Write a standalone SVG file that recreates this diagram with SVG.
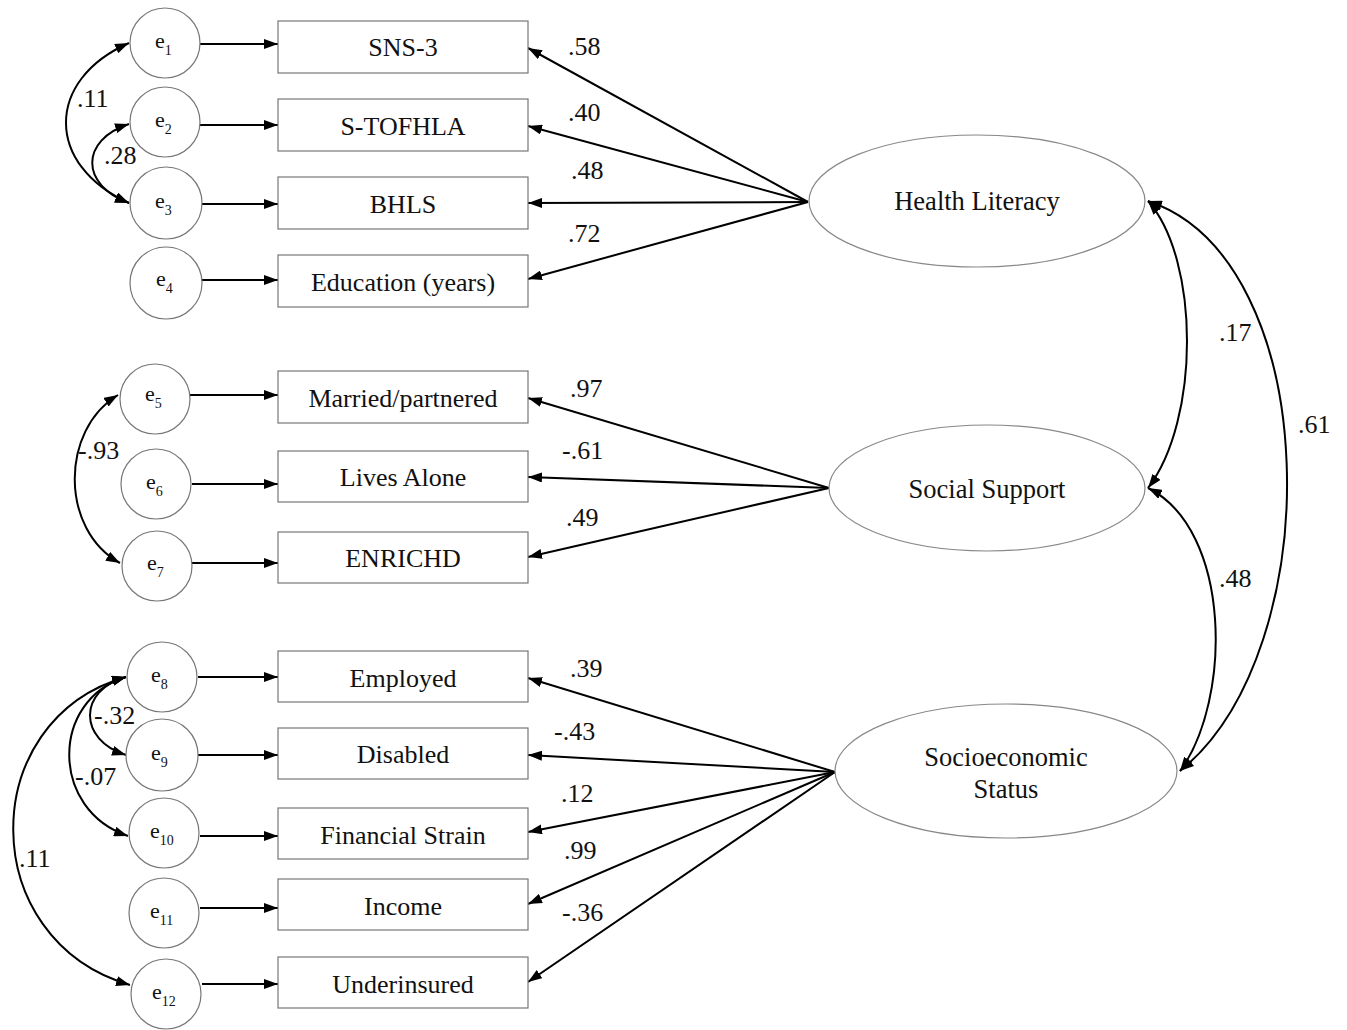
<svg xmlns="http://www.w3.org/2000/svg" width="1347" height="1030" viewBox="0 0 1347 1030">
<style>
text{font-family:"Liberation Serif","Times New Roman",serif;fill:#111;}
.box{fill:#fff;stroke:#777;stroke-width:1.2;}
.err{fill:#fff;stroke:#777;stroke-width:1.2;}
.lat{fill:#fff;stroke:#888;stroke-width:1.2;}
.lbl{font-size:26px;text-anchor:middle;}
.lat-t{font-size:26.5px;text-anchor:middle;}
.coef{font-size:26px;}
.e{font-size:22px;}
.sub{font-size:14px;}
.c{fill:none;stroke:#000;stroke-width:2;}
</style>
<defs>
<marker id="ah" viewBox="0 0 14 10" refX="14" refY="5" markerWidth="14" markerHeight="10" markerUnits="userSpaceOnUse" orient="auto-start-reverse">
<path d="M0,0 L14,5 L0,10 Z" fill="#000"/>
</marker>
</defs>
<rect width="1347" height="1030" fill="#fff"/>

<g id="connectors">
<line class="c" x1="200" y1="44" x2="278" y2="44" marker-end="url(#ah)"/>
<line class="c" x1="200" y1="125" x2="278" y2="125" marker-end="url(#ah)"/>
<line class="c" x1="201" y1="204" x2="278" y2="204" marker-end="url(#ah)"/>
<line class="c" x1="201" y1="280" x2="278" y2="280" marker-end="url(#ah)"/>
<line class="c" x1="190" y1="395" x2="278" y2="395" marker-end="url(#ah)"/>
<line class="c" x1="192" y1="484" x2="278" y2="484" marker-end="url(#ah)"/>
<line class="c" x1="192" y1="563" x2="278" y2="563" marker-end="url(#ah)"/>
<line class="c" x1="198" y1="677" x2="278" y2="677" marker-end="url(#ah)"/>
<line class="c" x1="198" y1="755" x2="278" y2="755" marker-end="url(#ah)"/>
<line class="c" x1="200" y1="836" x2="278" y2="836" marker-end="url(#ah)"/>
<line class="c" x1="200" y1="908" x2="278" y2="908" marker-end="url(#ah)"/>
<line class="c" x1="202" y1="984" x2="278" y2="984" marker-end="url(#ah)"/>
<line class="c" x1="808" y1="202" x2="528" y2="48" marker-end="url(#ah)"/>
<line class="c" x1="808" y1="202" x2="528" y2="126" marker-end="url(#ah)"/>
<line class="c" x1="808" y1="202" x2="528" y2="203" marker-end="url(#ah)"/>
<line class="c" x1="808" y1="202" x2="528" y2="279" marker-end="url(#ah)"/>
<line class="c" x1="829" y1="488" x2="528" y2="398" marker-end="url(#ah)"/>
<line class="c" x1="829" y1="488" x2="528" y2="477" marker-end="url(#ah)"/>
<line class="c" x1="829" y1="488" x2="528" y2="557" marker-end="url(#ah)"/>
<line class="c" x1="835" y1="772" x2="528" y2="678" marker-end="url(#ah)"/>
<line class="c" x1="835" y1="772" x2="528" y2="755" marker-end="url(#ah)"/>
<line class="c" x1="835" y1="772" x2="528" y2="832" marker-end="url(#ah)"/>
<line class="c" x1="835" y1="772" x2="528" y2="904" marker-end="url(#ah)"/>
<line class="c" x1="835" y1="772" x2="528" y2="982" marker-end="url(#ah)"/>
<path class="c" d="M129,43 C45,80 45,165 129,203" marker-start="url(#ah)" marker-end="url(#ah)"/>
<path class="c" d="M129,124 C80,140 80,185 129,203" marker-start="url(#ah)" marker-end="url(#ah)"/>
<path class="c" d="M118,395 C60,430 60,530 120,563" marker-start="url(#ah)" marker-end="url(#ah)"/>
<path class="c" d="M126,677 C78,690 78,740 126,755" marker-start="url(#ah)" marker-end="url(#ah)"/>
<path class="c" d="M126,677 C50,700 50,810 128,836" marker-start="url(#ah)" marker-end="url(#ah)"/>
<path class="c" d="M126,677 C-25,720 -25,940 130,985" marker-start="url(#ah)" marker-end="url(#ah)"/>
<path class="c" d="M1148,201 C1200,260 1200,420 1148,488" marker-start="url(#ah)" marker-end="url(#ah)"/>
<path class="c" d="M1148,201 C1325,260 1330,650 1180,771" marker-start="url(#ah)" marker-end="url(#ah)"/>
<path class="c" d="M1148,488 C1232,530 1232,700 1180,771" marker-start="url(#ah)" marker-end="url(#ah)"/>
<text class="coef" x="568" y="55">.58</text>
<text class="coef" x="568" y="121">.40</text>
<text class="coef" x="571" y="179">.48</text>
<text class="coef" x="568" y="242">.72</text>
<text class="coef" x="570" y="397">.97</text>
<text class="coef" x="562" y="459">-.61</text>
<text class="coef" x="566" y="526">.49</text>
<text class="coef" x="570" y="677">.39</text>
<text class="coef" x="554" y="740">-.43</text>
<text class="coef" x="561" y="802">.12</text>
<text class="coef" x="564" y="859">.99</text>
<text class="coef" x="562" y="921">-.36</text>
<text class="coef" x="77" y="107">.11</text>
<text class="coef" x="104" y="164">.28</text>
<text class="coef" x="78" y="459">-.93</text>
<text class="coef" x="94" y="724">-.32</text>
<text class="coef" x="75" y="785">-.07</text>
<text class="coef" x="19" y="867">.11</text>
<text class="coef" x="1219" y="341">.17</text>
<text class="coef" x="1298" y="433">.61</text>
<text class="coef" x="1219" y="587">.48</text>
</g>

<g id="e1"><circle class="err" cx="165" cy="43" r="35"/><text x="155" y="48"><tspan class="e">e</tspan><tspan class="sub" dy="7">1</tspan></text></g>
<g id="e2"><circle class="err" cx="165" cy="122" r="35"/><text x="155" y="127"><tspan class="e">e</tspan><tspan class="sub" dy="7">2</tspan></text></g>
<g id="e3"><circle class="err" cx="166" cy="203" r="36"/><text x="155" y="208"><tspan class="e">e</tspan><tspan class="sub" dy="7">3</tspan></text></g>
<g id="e4"><circle class="err" cx="166" cy="283" r="36"/><text x="156" y="286"><tspan class="e">e</tspan><tspan class="sub" dy="7">4</tspan></text></g>
<g id="e5"><circle class="err" cx="155" cy="399" r="35"/><text x="145" y="401"><tspan class="e">e</tspan><tspan class="sub" dy="7">5</tspan></text></g>
<g id="e6"><circle class="err" cx="156" cy="484" r="35"/><text x="146" y="489"><tspan class="e">e</tspan><tspan class="sub" dy="7">6</tspan></text></g>
<g id="e7"><circle class="err" cx="157" cy="566" r="35"/><text x="147" y="570"><tspan class="e">e</tspan><tspan class="sub" dy="7">7</tspan></text></g>
<g id="e8"><circle class="err" cx="162" cy="677" r="35"/><text x="151" y="682"><tspan class="e">e</tspan><tspan class="sub" dy="7">8</tspan></text></g>
<g id="e9"><circle class="err" cx="162" cy="755" r="36"/><text x="151" y="760"><tspan class="e">e</tspan><tspan class="sub" dy="7">9</tspan></text></g>
<g id="e10"><circle class="err" cx="164" cy="833" r="35"/><text x="150" y="838"><tspan class="e">e</tspan><tspan class="sub" dy="7">10</tspan></text></g>
<g id="e11"><circle class="err" cx="164" cy="913" r="35"/><text x="150" y="918"><tspan class="e">e</tspan><tspan class="sub" dy="7">11</tspan></text></g>
<g id="e12"><circle class="err" cx="166" cy="994" r="35"/><text x="152" y="999"><tspan class="e">e</tspan><tspan class="sub" dy="7">12</tspan></text></g>

<g id="sns3"><rect class="box" x="278" y="21" width="250" height="52"/><text class="lbl" x="403" y="56">SNS-3</text></g>
<g id="stofhla"><rect class="box" x="278" y="99" width="250" height="52"/><text class="lbl" x="403" y="135">S-TOFHLA</text></g>
<g id="bhls"><rect class="box" x="278" y="177" width="250" height="52"/><text class="lbl" x="403" y="213">BHLS</text></g>
<g id="education"><rect class="box" x="278" y="255" width="250" height="52"/><text class="lbl" x="403" y="291">Education (years)</text></g>
<g id="married"><rect class="box" x="278" y="371" width="250" height="52"/><text class="lbl" x="403" y="407">Married/partnered</text></g>
<g id="livesalone"><rect class="box" x="278" y="451" width="250" height="51"/><text class="lbl" x="403" y="486">Lives Alone</text></g>
<g id="enrichd"><rect class="box" x="278" y="532" width="250" height="51"/><text class="lbl" x="403" y="567">ENRICHD</text></g>
<g id="employed"><rect class="box" x="278" y="651" width="250" height="51"/><text class="lbl" x="403" y="687">Employed</text></g>
<g id="disabled"><rect class="box" x="278" y="728" width="250" height="51"/><text class="lbl" x="403" y="763">Disabled</text></g>
<g id="financial"><rect class="box" x="278" y="808" width="250" height="51"/><text class="lbl" x="403" y="844">Financial Strain</text></g>
<g id="income"><rect class="box" x="278" y="879" width="250" height="51"/><text class="lbl" x="403" y="915">Income</text></g>
<g id="underinsured"><rect class="box" x="278" y="957" width="250" height="51"/><text class="lbl" x="403" y="993">Underinsured</text></g>

<g id="health-literacy"><ellipse class="lat" cx="977" cy="201" rx="168" ry="66"/><text class="lat-t" x="977" y="210">Health Literacy</text></g>
<g id="social-support"><ellipse class="lat" cx="987" cy="488" rx="158" ry="63"/><text class="lat-t" x="987" y="498">Social Support</text></g>
<g id="ses"><ellipse class="lat" cx="1006" cy="771" rx="171" ry="67"/><text class="lat-t" x="1006" y="766">Socioeconomic</text><text class="lat-t" x="1006" y="798">Status</text></g>
</svg>
